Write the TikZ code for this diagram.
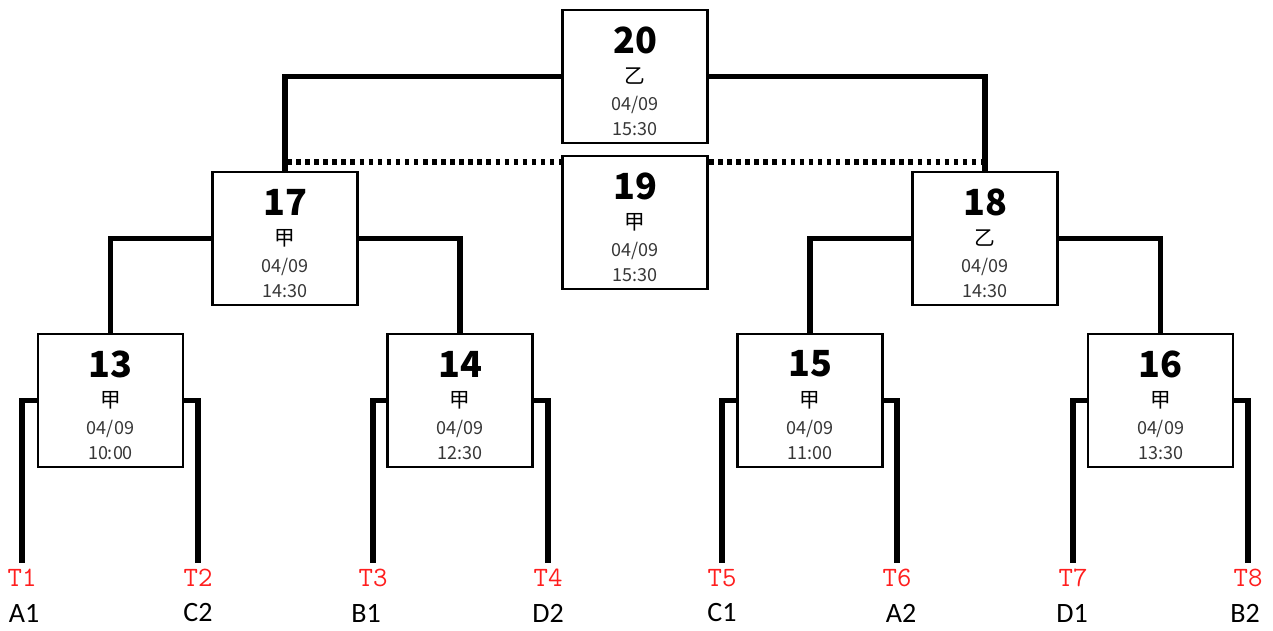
\documentclass[tikz,border=0pt]{standalone}
\usepackage{fontspec}
\newfontfamily\krfont{Noto Sans CJK KR}
\newfontfamily\calib{Carlito}
\definecolor{tred}{RGB}{255,30,30}
\definecolor{dgray}{RGB}{55,55,55}
\tikzset{
  matchbox/.style={draw, line width=2.2pt, minimum width=108.75pt, minimum height=99.75pt, inner sep=0pt, fill=white},
  numtxt/.style={font=\krfont\fontsize{27}{29}\selectfont\bfseries, inner sep=0pt},
  chtxt/.style={font=\krfont\fontsize{15.5}{17}\selectfont, inner sep=0pt},
  datetxt/.style={font=\krfont\fontsize{13.5}{15}\selectfont, text=dgray, inner sep=0pt},
  conn/.style={line width=3.8pt},
  dotconn/.style={line width=3.8pt, dash pattern=on 3.4pt off 3.4pt},
  tlabel/.style={font=\ttfamily\fontsize{21}{23}\selectfont, text=tred, inner sep=0pt},
  team/.style={font=\calib\fontsize{21}{23}\selectfont, inner sep=0pt},
}
\newcommand{\gamebox}[7]{%
  \node[matchbox] (#1) at (#2,#3+66.5) {};
  \node[numtxt] (#1n) at (#2,#3+30) {#4};
  \node[chtxt] (#1c) at (#2,#3+66) {#5};
  \node[datetxt] (#1d) at (#2,#3+95) {#6};
  \node[datetxt] (#1t) at (#2,#3+119) {#7};
}
\newcommand{\leaf}[5]{%
  \coordinate (#1) at (#2,563);
  \node[tlabel] (#1l) at (#2,578) {#3};
  \node[team] (#1m) at (#4,613) {#5};
}
\begin{document}
\begin{tikzpicture}[x=0.75pt,y=-0.75pt]
\useasboundingbox (0,0) rectangle (1273,631);
% leaves
\leaf{t1}{22}{T1}{24}{A1}
\leaf{t2}{198}{T2}{198}{C2}
\leaf{t3}{373}{T3}{366}{B1}
\leaf{t4}{548}{T4}{548}{D2}
\leaf{t5}{722}{T5}{722}{C1}
\leaf{t6}{897}{T6}{901}{A2}
\leaf{t7}{1073}{T7}{1072}{D1}
\leaf{t8}{1248}{T8}{1245}{B2}
% boxes
\gamebox{b13}{110.5}{334}{13}{甲}{04/09}{10:00}
\gamebox{b14}{460}{334}{14}{甲}{04/09}{12:30}
\gamebox{b15}{810}{334}{15}{甲}{04/09}{11:00}
\gamebox{b16}{1160.5}{334}{16}{甲}{04/09}{13:30}
\gamebox{b17}{285}{172}{17}{甲}{04/09}{14:30}
\gamebox{b18}{985}{172}{18}{乙}{04/09}{14:30}
\gamebox{b19}{635}{156}{19}{甲}{04/09}{15:30}
\gamebox{b20}{635}{10}{20}{乙}{04/09}{15:30}
% dotted link for 19
\coordinate (d1) at (287,162);
\coordinate (d2) at (985,162);
\draw[dotconn] (d1) -- (d1 -| b19.west);
\draw[dotconn] (b19.east |- d2) -- (d2);
% connectors
\draw[conn] (b20.west) -| (b17.north);
\draw[conn] (b20.east) -| (b18.north);
\draw[conn] (b17.west) -| (b13.north);
\draw[conn] (b17.east) -| (b14.north);
\draw[conn] (b18.west) -| (b15.north);
\draw[conn] (b18.east) -| (b16.north);
\draw[conn] (b13.west) -| (t1);
\draw[conn] (b13.east) -| (t2);
\draw[conn] (b14.west) -| (t3);
\draw[conn] (b14.east) -| (t4);
\draw[conn] (b15.west) -| (t5);
\draw[conn] (b15.east) -| (t6);
\draw[conn] (b16.west) -| (t7);
\draw[conn] (b16.east) -| (t8);
\end{tikzpicture}
\end{document}
